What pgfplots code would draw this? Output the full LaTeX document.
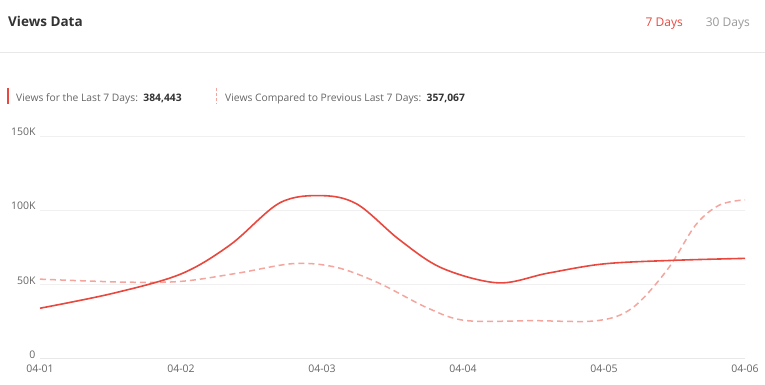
\documentclass[border=0pt]{standalone}
\usepackage{fontspec}
\setmainfont{Open Sans}
\usepackage{pgfplots}
\pgfplotsset{compat=1.18}
\definecolor{shopee}{HTML}{E8483E}
\definecolor{pale}{HTML}{F4A69E}
\definecolor{txt}{HTML}{333333}
\definecolor{greyt}{HTML}{666666}
\definecolor{greyl}{HTML}{999999}
\definecolor{gridc}{HTML}{F0F0F0}
\definecolor{sepc}{HTML}{E8E8E8}
\begin{document}
\begin{tikzpicture}[x=1pt,y=1pt]
\path[use as bounding box] (0,0) rectangle (765,384);
\fill[white] (0,0) rectangle (765,384);
\node[anchor=base west, font=\fontsize{13.5}{16}\selectfont\bfseries, text=txt, inner sep=0] at (8,358) {Views Data};
\node[anchor=base east, font=\fontsize{12}{14}\selectfont, text=shopee, inner sep=0] at (683,357) {7 Days};
\node[anchor=base east, font=\fontsize{12}{14}\selectfont, text=greyl, inner sep=0] at (750,357) {30 Days};
\draw[sepc, line width=1] (0,332) -- (765,332);
\draw[shopee, line width=1.5] (8,296) -- (8,280);
\node[anchor=base west, font=\fontsize{10.3}{12}\selectfont, text=greyt, inner sep=0] at (16,283) {Views for the Last 7 Days:\ \ \textcolor{txt}{\bfseries 384,443}};
\draw[pale, line width=1, dash pattern=on 3pt off 2pt] (216,296) -- (216,280);
\node[anchor=base west, font=\fontsize{10.3}{12}\selectfont, text=greyt, inner sep=0] at (225,283) {Views Compared to Previous Last 7 Days:\ \ \textcolor{txt}{\bfseries 357,067}};
\begin{axis}[
  at={(40pt,25.5pt)}, anchor=south west, scale only axis,
  width=705pt, height=222.5pt,
  xmin=0, xmax=5, ymin=0, ymax=150000,
  axis line style={draw=none},
  tick style={draw=none},
  ymajorgrids, grid style={gridc, line width=1},
  xtick={0,1,2,3,4,5},
  xticklabels={04-01,04-02,04-03,04-04,04-05,04-06},
  ytick={0,50000,100000,150000},
  yticklabels={0,50K,100K,150K},
  scaled y ticks=false,
  ticklabel style={font=\fontsize{10.5}{12}\selectfont, text=greyt},
  yticklabel style={xshift=-1pt, yshift=4pt},
  xticklabel style={yshift=-3pt},
  clip=false,
]
\draw[sepc, line width=1] (axis cs:0,0) -- (axis cs:5,0);
\addplot[pale, line width=1.5, dash pattern=on 6pt off 4pt, smooth, tension=0.55] coordinates {
(0,53500) (0.6,51500) (1.0,52000) (1.4,57500) (1.8,64000) (2.1,61500)
(2.4,51000) (2.75,34000) (3.02,25600) (3.5,25500) (3.95,25500)
(4.2,34000) (4.45,60000) (4.65,90000) (4.82,103500) (5,107000)
};
\addplot[shopee, line width=1.6, smooth, tension=0.55] coordinates {
(0,33900) (0.52,44000) (1.0,57000) (1.35,76700) (1.7,104900) (2.0,109800)
(2.25,104000) (2.55,80000) (2.85,61000) (3.25,51000) (3.6,57500)
(4.0,63800) (4.5,66200) (5,67500)
};
\end{axis}
\end{tikzpicture}
\end{document}
